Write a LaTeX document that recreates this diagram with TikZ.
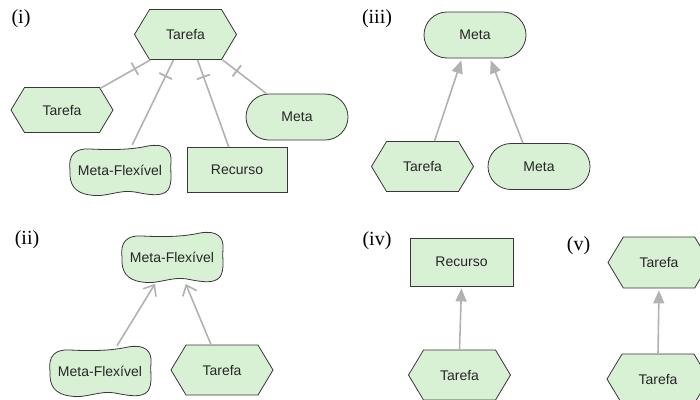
\documentclass[tikz,border=0pt]{standalone}
\usepackage{fontspec}
\setmainfont{Liberation Serif}
\setsansfont{Liberation Sans}
\usetikzlibrary{arrows.meta,shapes.symbols,shapes.misc,decorations.markings}

\definecolor{boxgreen}{RGB}{216,241,212}
\definecolor{linkgray}{RGB}{178,178,178}
\definecolor{bordergray}{RGB}{55,55,55}

% wavy outline of a soft goal, drawn under its (borderless) node
\newcommand{\flexnode}[3]{%
	\filldraw[flexline, shift={#2}] (-50,0) .. controls (-52,-15) and (-45,-22) .. (-30,-21)
		.. controls (-10,-20) and (10,-20) .. (28,-24)
		.. controls (45,-27) and (52,-20) .. (51,-8)
		.. controls (50,2) and (53,12) .. (48,20)
		.. controls (42,27) and (30,25) .. (15,22)
		.. controls (0,19) and (-15,28) .. (-30,25)
		.. controls (-45,23) and (-51,15) .. (-50,0) -- cycle;
	\node[flex] (#1) at #2 {#3};
}

\begin{document}
\begin{tikzpicture}[x=1pt,y=-1pt,
		every node/.style={font=\sffamily\fontsize{14}{16}\selectfont,text=black!85},
		partlabel/.style={font=\rmfamily\fontsize{20}{22}\selectfont,text=black},
		tarefa/.style={signal,signal to=west and east,signal pointer angle=118,draw=bordergray,
			fill=boxgreen,line width=0.8pt,minimum width=102pt,minimum height=50pt,inner sep=0pt},
		meta/.style={rounded rectangle,draw=bordergray,fill=boxgreen,line width=0.8pt,
			minimum width=102pt,minimum height=46pt,inner sep=0pt},
		recurso/.style={rectangle,draw=bordergray,fill=boxgreen,line width=0.8pt,
			minimum width=100pt,minimum height=45pt,inner sep=0pt},
		flex/.style={minimum width=100pt,minimum height=50pt,inner sep=0pt},
		flexline/.style={draw=bordergray,fill=boxgreen,line width=0.8pt},
		link/.style={color=linkgray,line width=1.6pt},
		means/.style={link,-{Triangle[length=13pt,width=11pt]},shorten >=2pt},
		contrib/.style={link,-{Straight Barb[length=9pt,width=15pt]},shorten >=2pt},
		decomp/.style={link,postaction={decorate},decoration={markings,
			mark=at position 18pt with {\draw[linkgray,line width=1.8pt] (0,-7pt) -- (0,7pt);}}}]
	\useasboundingbox (0,0) rectangle (700,399);

	% (i)
	\node[partlabel] (L_i) at (21,19) {(i)};
	\node[tarefa] (T_0) at (185.5,34.5) {Tarefa};
	\node[tarefa,minimum height=45pt] (T_1) at (62,110) {Tarefa};
	\node[meta] (M_1) at (297,117) {Meta};
	\flexnode{F_1}{(120,170)}{Meta-Flexível}
	\node[recurso] (R_1) at (237,170) {Recurso};

	\draw[decomp] ([xshift=-35]T_0.south) -- (T_1);
	\draw[decomp] ([xshift=-12]T_0.south) -- (F_1);
	\draw[decomp] ([xshift=12]T_0.south) -- (R_1);
	\draw[decomp] ([xshift=37]T_0.south) -- (M_1);

	% (iii)
	\node[partlabel] (L_iii) at (377,19) {(iii)};
	\node[meta] (M_3) at (475,35) {Meta};
	\node[tarefa] (T_3) at (422.5,166.5) {Tarefa};
	\node[meta] (M_4) at (539,166.5) {Meta};

	\draw[means] ([xshift=12]T_3.north) -- ([xshift=-13]M_3.south);
	\draw[means] ([xshift=-16]M_4.north) -- ([xshift=15]M_3.south);

	% (ii)
	\node[partlabel] (L_ii) at (27,240) {(ii)};
	\flexnode{F_2}{(172,257)}{Meta-Flexível}
	\flexnode{F_3}{(100,371)}{Meta-Flexível}
	\node[tarefa] (T_4) at (222,370) {Tarefa};

	\draw[contrib] ([xshift=17]F_3.north) -- ([xshift=-16]F_2.south);
	\draw[contrib] ([xshift=-11]T_4.north) -- ([xshift=13]F_2.south);

	% (iv)
	\node[partlabel] (L_iv) at (377,241) {(iv)};
	\node[recurso,minimum width=103pt,minimum height=48pt] (R_2) at (461.5,262) {Recurso};
	\node[tarefa] (T_5) at (459.5,375) {Tarefa};

	\draw[means] (T_5.north) -- (R_2.south);

	% (v)
	\node[partlabel] (L_v) at (578.5,245.5) {(v)};
	\node[tarefa,minimum height=51pt] (T_6) at (659,262.5) {Tarefa};
	\node[tarefa] (T_7) at (658,379) {Tarefa};

	\draw[means] (T_7.north) -- (T_6.south);
\end{tikzpicture}
\end{document}
